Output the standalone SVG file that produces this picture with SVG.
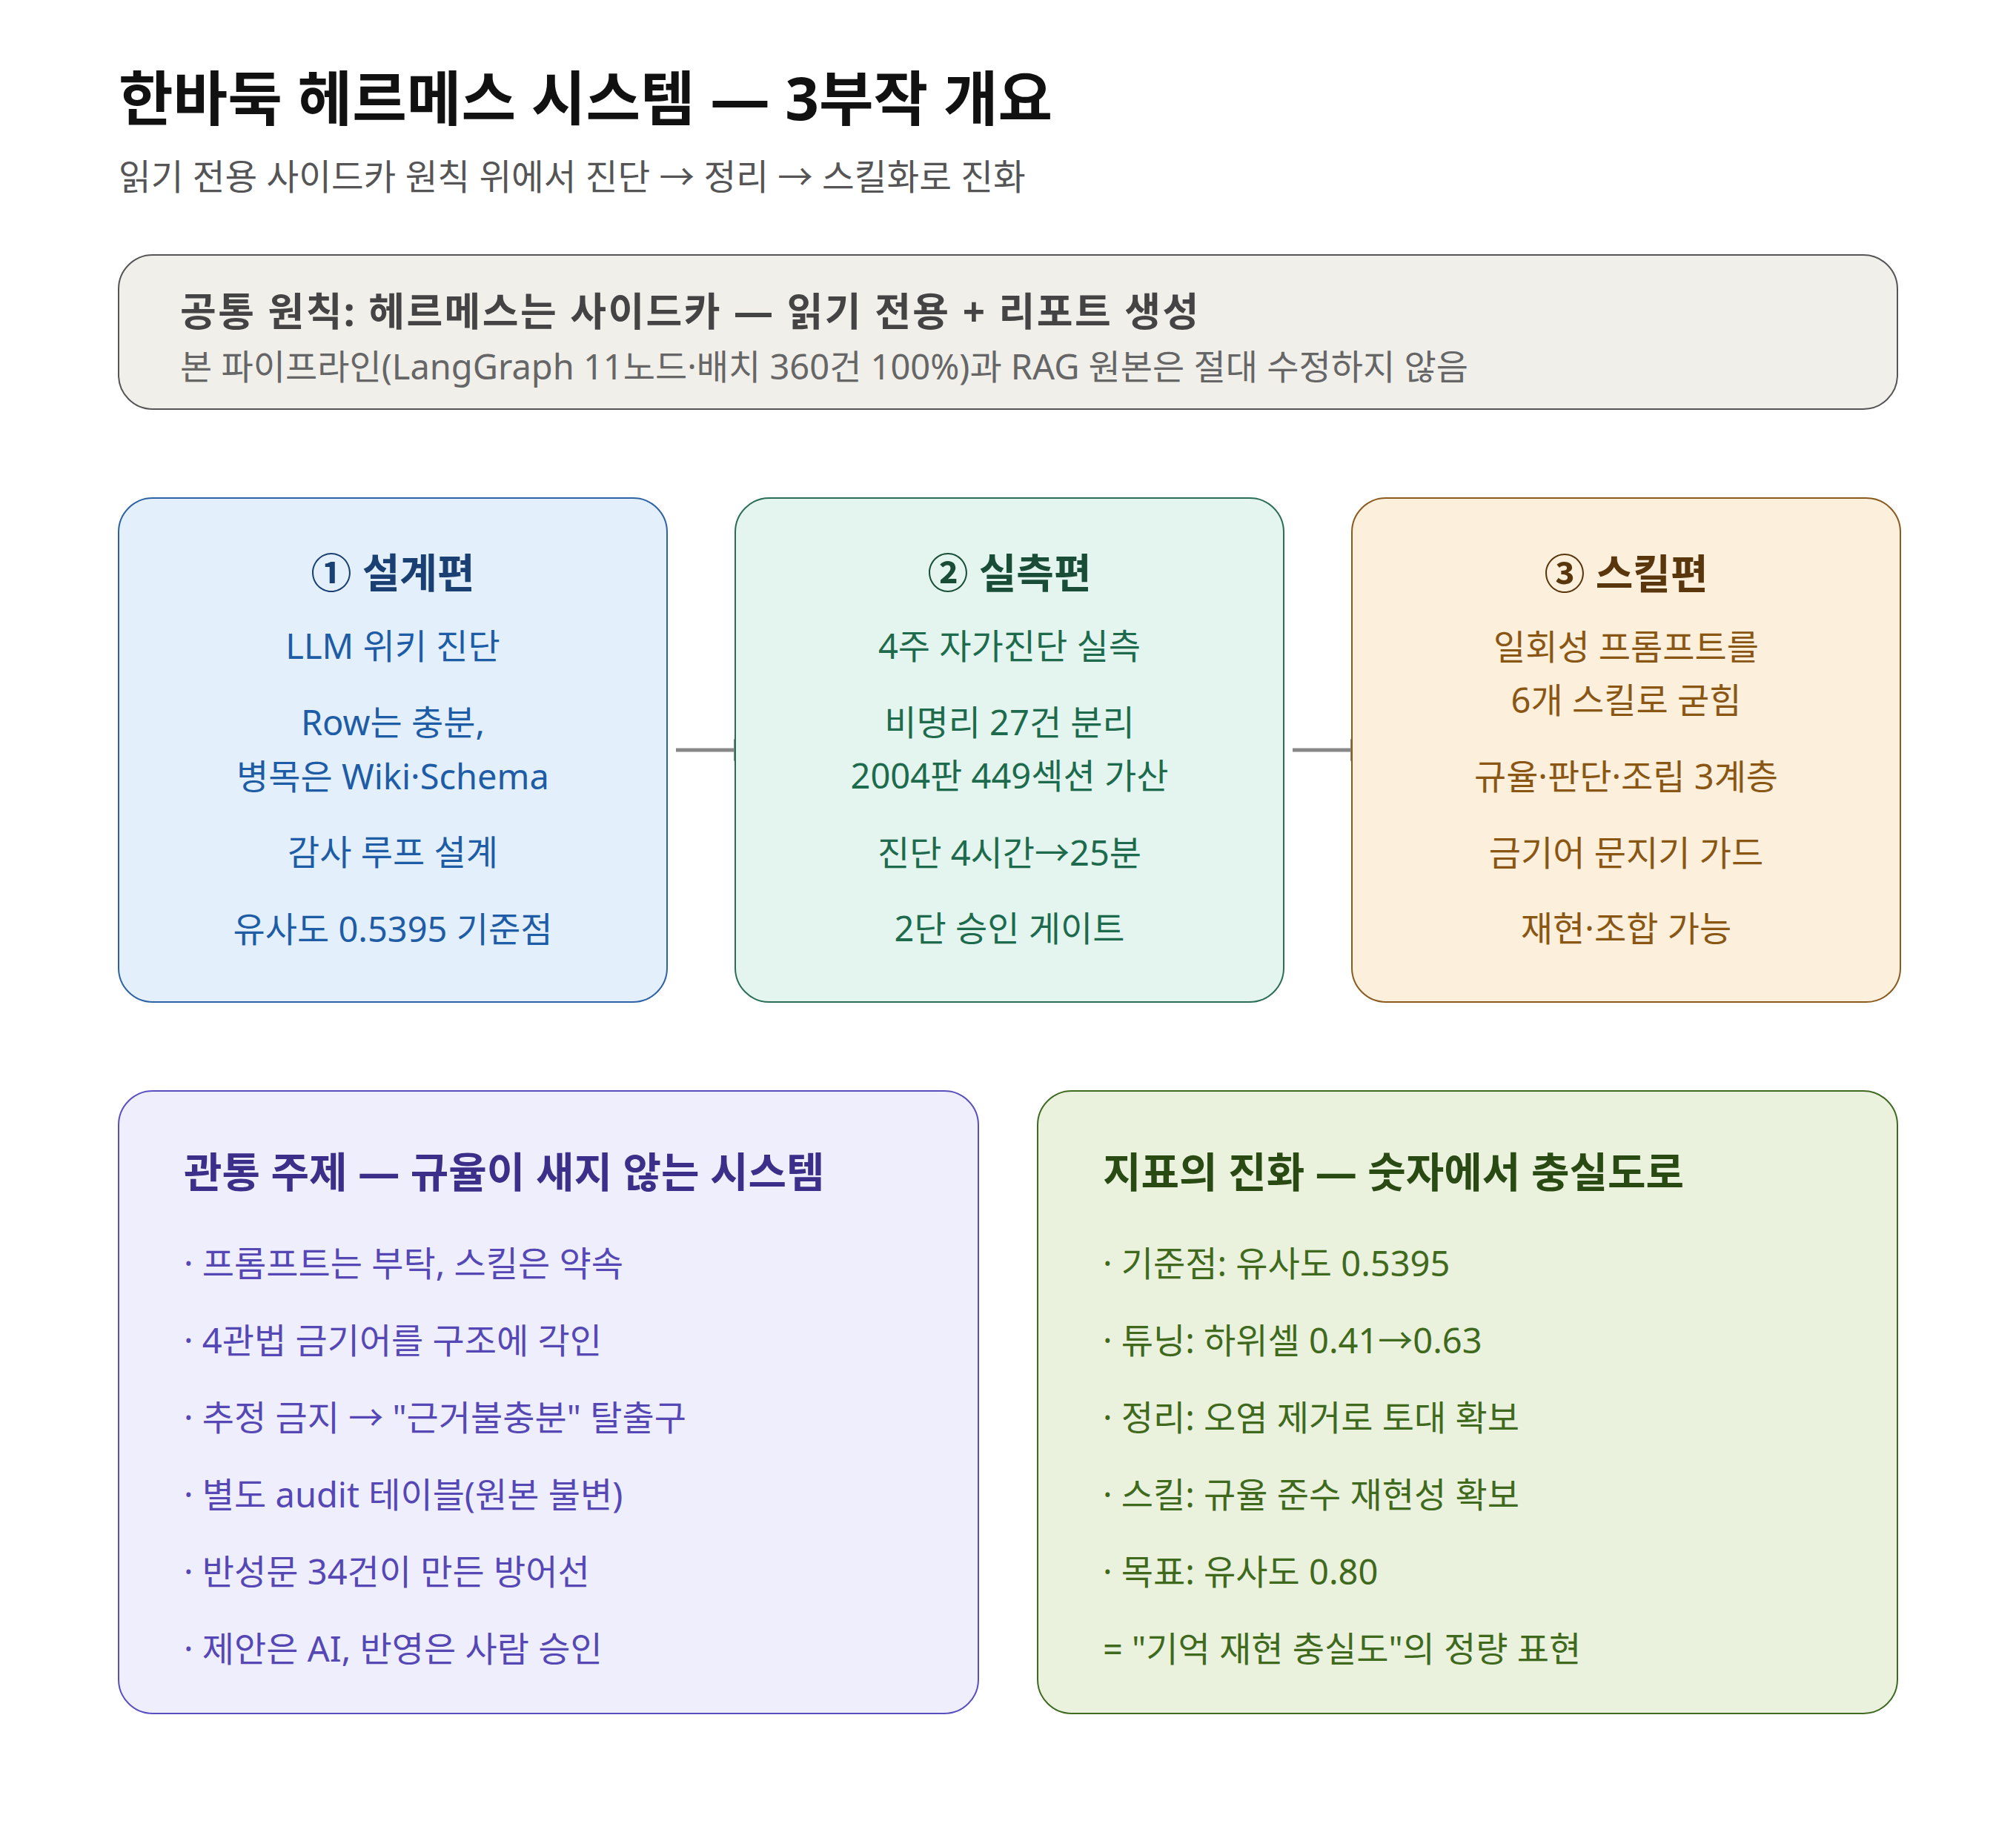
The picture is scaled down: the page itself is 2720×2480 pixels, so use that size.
<svg xmlns="http://www.w3.org/2000/svg" width="2720" height="2480" viewBox="0 0 2720 2480">
<style>
text{font-family:"Noto Sans","Noto Sans CJK KR",sans-serif;}
.title{font-size:80px;font-weight:700;fill:#111;}
.sub{font-size:47.5px;fill:#555;}
.ph{font-size:53px;font-weight:700;fill:#444;letter-spacing:2.4px;}
.pt{font-size:47px;fill:#666;}
.bt{font-size:55px;font-weight:700;text-anchor:middle;}
.bl{font-size:47px;text-anchor:middle;}
.pt2{font-size:56px;font-weight:700;}
.it{font-size:47px;}
.conn{stroke:#888;stroke-width:5;fill:none;}
</style>
<defs>
<marker id="arr" markerUnits="userSpaceOnUse" markerWidth="32" markerHeight="32" refX="2" refY="15" orient="auto">
<path d="M0,0 L28,15 L0,30 Z" fill="#888"/>
</marker>
</defs>
<rect width="2720" height="2480" fill="#fff"/>
<g id="header">
<text class="title" x="160" y="162">한바둑 헤르메스 시스템 — 3부작 개요</text>
<text class="sub" x="160" y="256">읽기 전용 사이드카 원칙 위에서 진단 → 정리 → 스킬화로 진화</text>
</g>
<g id="principle">
<rect x="160" y="344" width="2400" height="208" rx="46" fill="#f0efea" stroke="#555" stroke-width="2"/>
<text class="ph" x="243" y="440">공통 원칙: 헤르메스는 사이드카 — 읽기 전용 + 리포트 생성</text>
<text class="pt" x="243" y="512">본 파이프라인(LangGraph 11노드·배치 360건 100%)과 RAG 원본은 절대 수정하지 않음</text>
</g>
<g id="connectors">
<line class="conn" x1="912" y1="1012" x2="992" y2="1012" marker-end="url(#arr)"/>
<line class="conn" x1="1744" y1="1012" x2="1824" y2="1012" marker-end="url(#arr)"/>
</g>
<g id="part1">
<rect x="160" y="672" width="740" height="680" rx="46" fill="#e3f0fb" stroke="#2e62a4" stroke-width="2"/>
<text class="bt" x="530" y="793" fill="#1a3f73">① 설계편</text>
<g class="bl" fill="#1e5ca6">
<text x="530" y="889">LLM 위키 진단</text>
<text x="530" y="992">Row는 충분,</text>
<text x="530" y="1065">병목은 Wiki·Schema</text>
<text x="530" y="1167">감사 루프 설계</text>
<text x="530" y="1271">유사도 0.5395 기준점</text>
</g>
</g>
<g id="part2">
<rect x="992" y="672" width="740" height="680" rx="46" fill="#e3f5ee" stroke="#2b6e55" stroke-width="2"/>
<text class="bt" x="1362" y="793" fill="#1a4d37">② 실측편</text>
<g class="bl" fill="#1d6b4c">
<text x="1362" y="889">4주 자가진단 실측</text>
<text x="1362" y="992">비명리 27건 분리</text>
<text x="1362" y="1064">2004판 449섹션 가산</text>
<text x="1362" y="1168">진단 4시간→25분</text>
<text x="1362" y="1270">2단 승인 게이트</text>
</g>
</g>
<g id="part3">
<rect x="1824" y="672" width="740" height="680" rx="46" fill="#fcefdc" stroke="#8a5a1f" stroke-width="2"/>
<text class="bt" x="2194" y="794" fill="#5a360c">③ 스킬편</text>
<g class="bl" fill="#8a5614">
<text x="2194" y="890">일회성 프롬프트를</text>
<text x="2194" y="962">6개 스킬로 굳힘</text>
<text x="2194" y="1065">규율·판단·조립 3계층</text>
<text x="2194" y="1168">금기어 문지기 가드</text>
<text x="2194" y="1270">재현·조합 가능</text>
</g>
</g>
<g id="theme">
<rect x="160" y="1472" width="1160" height="840" rx="46" fill="#efeefc" stroke="#5a4fc0" stroke-width="2"/>
<text class="pt2" x="248" y="1602" fill="#3b2f8a">관통 주제 — 규율이 새지 않는 시스템</text>
<g class="it" fill="#5548b5">
<text x="248" y="1722">· 프롬프트는 부탁, 스킬은 약속</text>
<text x="248" y="1826">· 4관법 금기어를 구조에 각인</text>
<text x="248" y="1930">· 추정 금지 → "근거불충분" 탈출구</text>
<text x="248" y="2034">· 별도 audit 테이블(원본 불변)</text>
<text x="248" y="2138">· 반성문 34건이 만든 방어선</text>
<text x="248" y="2242">· 제안은 AI, 반영은 사람 승인</text>
</g>
</g>
<g id="metrics">
<rect x="1400" y="1472" width="1160" height="840" rx="46" fill="#eaf2dd" stroke="#3f6a22" stroke-width="2"/>
<text class="pt2" x="1488" y="1602" fill="#2a4a14">지표의 진화 — 숫자에서 충실도로</text>
<g class="it" fill="#3f6a1d">
<text x="1488" y="1722">· 기준점: 유사도 0.5395</text>
<text x="1488" y="1826">· 튜닝: 하위셀 0.41→0.63</text>
<text x="1488" y="1930">· 정리: 오염 제거로 토대 확보</text>
<text x="1488" y="2034">· 스킬: 규율 준수 재현성 확보</text>
<text x="1488" y="2138">· 목표: 유사도 0.80</text>
<text x="1488" y="2242">= "기억 재현 충실도"의 정량 표현</text>
</g>
</g>
</svg>
